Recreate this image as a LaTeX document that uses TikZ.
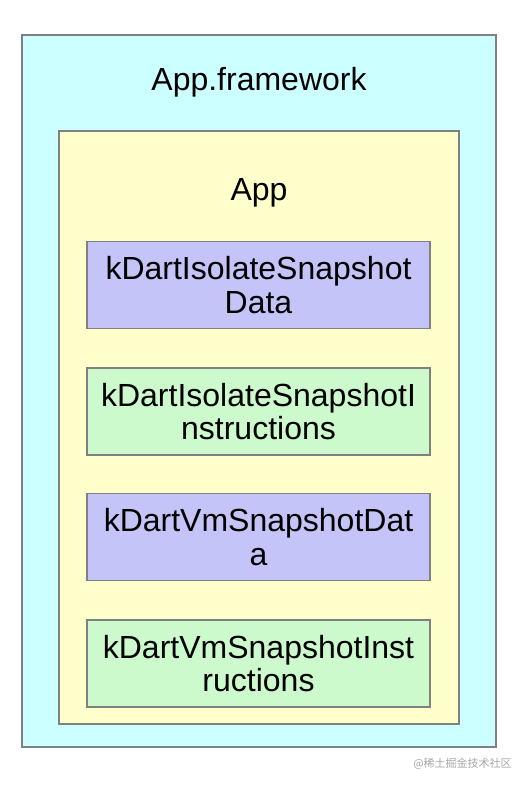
\documentclass[tikz,border=0pt]{standalone}
\usepackage{fontspec}
\setmainfont{Liberation Sans}
\newfontfamily\cjk{Noto Sans CJK SC}
\definecolor{outerfill}{HTML}{CCFFFF}
\definecolor{innerfill}{HTML}{FFFFCC}
\definecolor{bluefill}{HTML}{C4C4F9}
\definecolor{greenfill}{HTML}{CCFACC}
\definecolor{edgegray}{HTML}{808080}
\begin{document}
\begin{tikzpicture}[x=1pt,y=-1pt,
  frame/.style={draw=edgegray,line width=1.5pt,inner sep=0pt},
  item/.style={frame,minimum width=343pt,minimum height=87pt,align=center,
    font=\fontsize{32}{33.5}\selectfont},
  title/.style={anchor=base,font=\fontsize{32}{33}\selectfont}]
\useasboundingbox (0,0) rectangle (530,786);
\node[frame,fill=outerfill,minimum width=474pt,minimum height=712pt] (outer) at (259,391) {};
\node[title] (fwlabel) at (259,91) {App.framework};
\node[frame,fill=innerfill,minimum width=400pt,minimum height=593pt] (inner) at (259,427.5) {};
\node[title] (applabel) at (259,200.5) {App};
\node[item,fill=bluefill] (b1) at (258.5,285) {kDartIsolateSnapshot\\Data};
\node[item,fill=greenfill] (b2) at (258.5,411.5) {kDartIsolateSnapshotI\\nstructions};
\node[item,fill=bluefill] (b3) at (258.5,537) {kDartVmSnapshotDat\\a};
\node[item,fill=greenfill] (b4) at (258.5,663.5) {kDartVmSnapshotInst\\ructions};
\node[text=black!35,font=\cjk\fontsize{11}{11}\selectfont] (wm) at (462.5,764) {@稀土掘金技术社区};
\end{tikzpicture}
\end{document}
